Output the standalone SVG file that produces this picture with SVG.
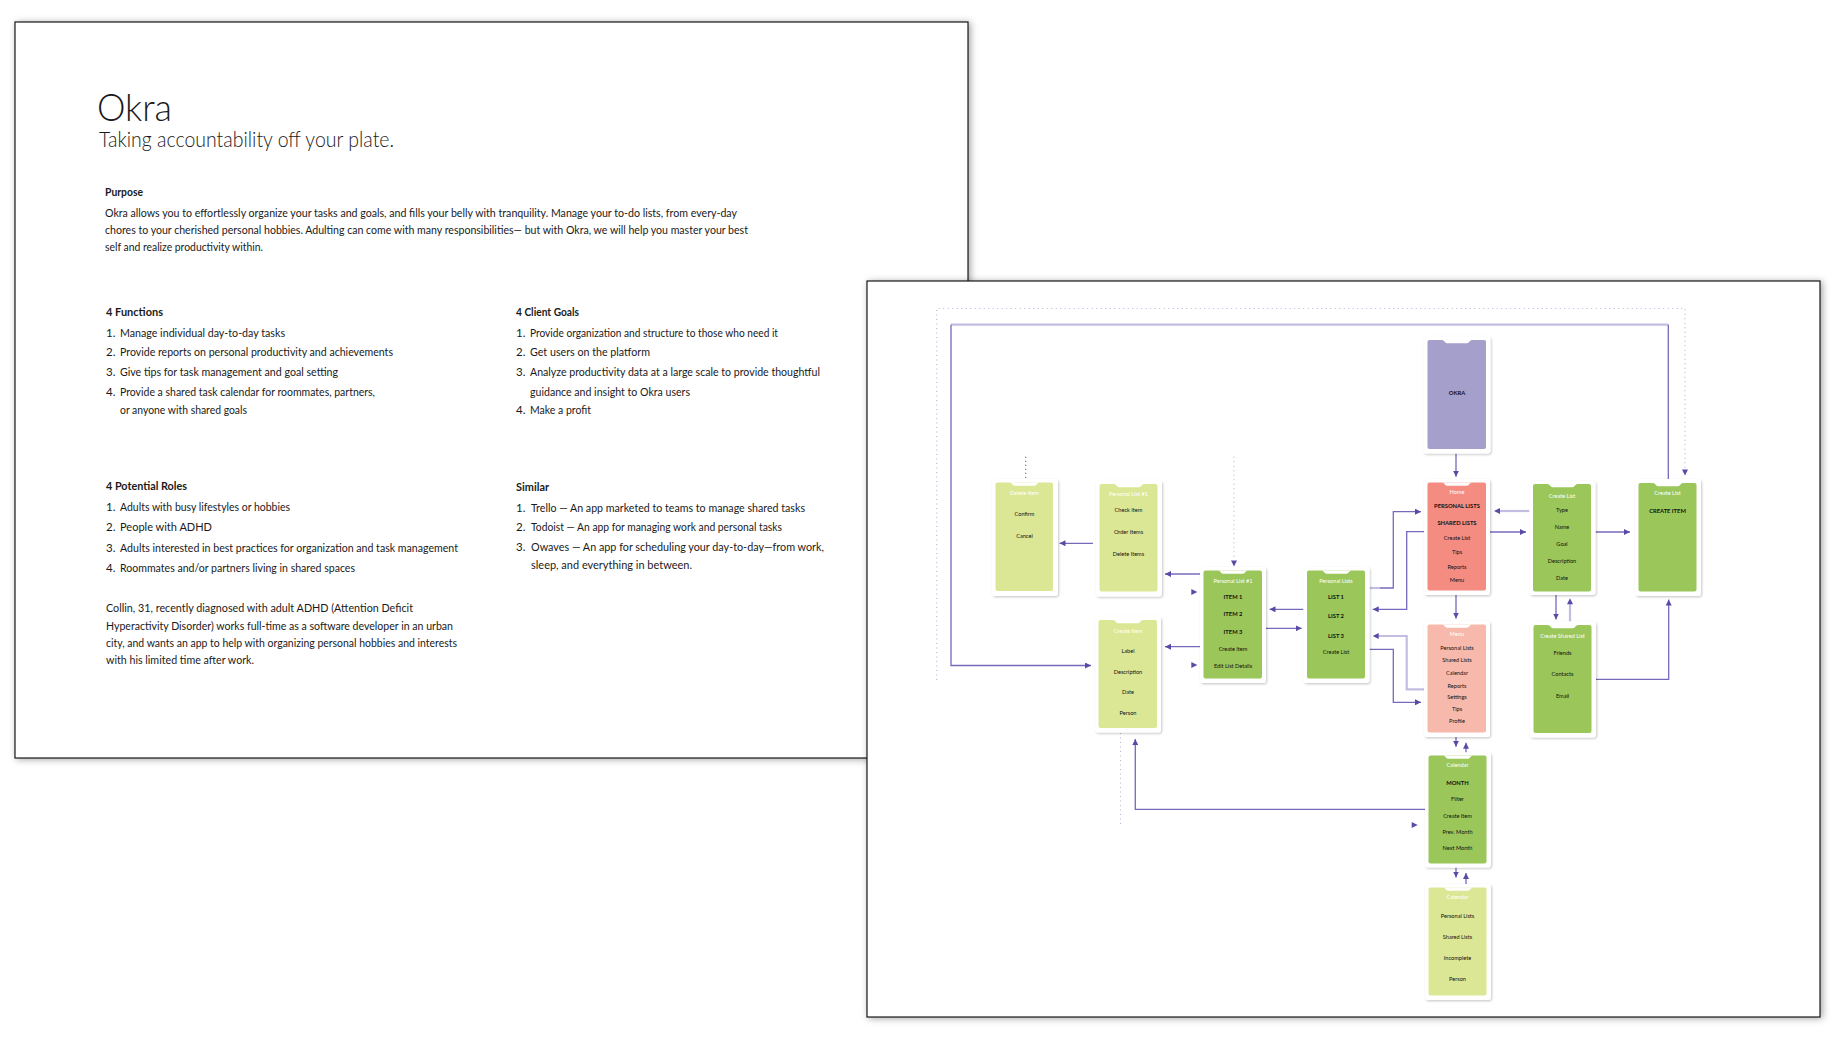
<svg xmlns="http://www.w3.org/2000/svg" xmlns:xlink="http://www.w3.org/1999/xlink" width="1837" height="1037" viewBox="0 0 1837 1037">
<defs>
<filter id="ps" x="-5%" y="-5%" width="110%" height="110%"><feDropShadow dx="2" dy="1" stdDeviation="3.5" flood-color="#000" flood-opacity="0.35"/></filter>
<filter id="cs" x="-20%" y="-20%" width="140%" height="140%"><feDropShadow dx="1" dy="1.2" stdDeviation="0.8" flood-color="#000" flood-opacity="0.22"/></filter>
<marker id="ar" viewBox="0 0 6 6" refX="6" refY="3" markerWidth="6" markerHeight="6" orient="auto" markerUnits="userSpaceOnUse"><path d="M0,0 L6,3 L0,6 Z" fill="#5a4aa6"/></marker>
<path id="ah" d="M0,0 L-6,-3 L-6,3 Z" fill="#5a4aa6"/>
<path id="notch" d="M18,3.5 Q19.5,3.5 20.5,5 Q21.5,6.8 23,6.8 H43 Q44.5,6.8 45.5,5 Q46.5,3.5 48,3.5 Z" fill="#fff"/>
<style>
.page{fill:#fff;stroke:#1a1a1a;stroke-width:1.2;filter:url(#ps)}
.pt{font-family:Lato,"Open Sans","Liberation Sans",sans-serif;fill:#1a1a1a;font-size:11.5px}
.ph{font-weight:700}
.card{fill:#fff;filter:url(#cs)}
.in{stroke:none}
.okra{fill:#a59fcc}.home{fill:#f48c82}.menu{fill:#f8b9ad}.grn{fill:#9ac65a}.lgr{fill:#dce795}
.t{font-family:Lato,"Open Sans","Liberation Sans",sans-serif;font-size:5.6px;text-anchor:middle;dominant-baseline:central;fill:#111}
.w{fill:#fff}
.b{font-weight:700;font-size:5.8px}
.ln{fill:none;stroke:#7868bb;stroke-width:1.3}
.lt{fill:none;stroke:#c4bde2;stroke-width:2.2}
.dt{fill:none;stroke:#b9b1dc;stroke-width:1.1;stroke-dasharray:1 3.5}
.dd{fill:none;stroke:#4f3f98;stroke-width:1.1;stroke-dasharray:1 3}
</style>
</defs>
<rect width="1837" height="1037" fill="#fff"/>

<g id="left-page">
<rect class="page" x="15" y="22" width="953" height="736"/>
<text class="pt" x="97" y="121" style="font-size:37px;font-weight:300" textLength="75" lengthAdjust="spacingAndGlyphs">Okra</text>
<text class="pt" x="99" y="147" style="font-size:21px;font-weight:300" textLength="295" lengthAdjust="spacingAndGlyphs">Taking accountability off your plate.</text>
<text class="pt ph" x="105" y="196" style="font-size:11px" textLength="38" lengthAdjust="spacingAndGlyphs">Purpose</text>
<text class="pt" x="105" y="217" style="font-size:11px" textLength="632" lengthAdjust="spacingAndGlyphs">Okra allows you to effortlessly organize your tasks and goals, and fills your belly with tranquility. Manage your to-do lists, from every-day</text>
<text class="pt" x="105" y="234" style="font-size:11px" textLength="643" lengthAdjust="spacingAndGlyphs">chores to your cherished personal hobbies. Adulting can come with many responsibilities— but with Okra, we will help you master your best</text>
<text class="pt" x="105" y="251" style="font-size:11px" textLength="158" lengthAdjust="spacingAndGlyphs">self and realize productivity within.</text>

<text class="pt ph" x="106" y="316" textLength="57" lengthAdjust="spacingAndGlyphs">4 Functions</text>
<text class="pt" x="106" y="336.7">1.</text><text class="pt" x="120" y="336.7" textLength="165" lengthAdjust="spacingAndGlyphs">Manage individual day-to-day tasks</text>
<text class="pt" x="106" y="356">2.</text><text class="pt" x="120" y="356" textLength="273" lengthAdjust="spacingAndGlyphs">Provide reports on personal productivity and achievements</text>
<text class="pt" x="106" y="376">3.</text><text class="pt" x="120" y="376" textLength="218" lengthAdjust="spacingAndGlyphs">Give tips for task management and goal setting</text>
<text class="pt" x="106" y="396">4.</text><text class="pt" x="120" y="396" textLength="255" lengthAdjust="spacingAndGlyphs">Provide a shared task calendar for roommates, partners,</text>
<text class="pt" x="120" y="414" textLength="127" lengthAdjust="spacingAndGlyphs">or anyone with shared goals</text>

<text class="pt ph" x="516" y="316" textLength="63" lengthAdjust="spacingAndGlyphs">4 Client Goals</text>
<text class="pt" x="516" y="336.7">1.</text><text class="pt" x="530" y="336.7" textLength="248" lengthAdjust="spacingAndGlyphs">Provide organization and structure to those who need it</text>
<text class="pt" x="516" y="356">2.</text><text class="pt" x="530" y="356" textLength="120" lengthAdjust="spacingAndGlyphs">Get users on the platform</text>
<text class="pt" x="516" y="376">3.</text><text class="pt" x="530" y="376" textLength="290" lengthAdjust="spacingAndGlyphs">Analyze productivity data at a large scale to provide thoughtful</text>
<text class="pt" x="530" y="396" textLength="160" lengthAdjust="spacingAndGlyphs">guidance and insight to Okra users</text>
<text class="pt" x="516" y="414">4.</text><text class="pt" x="530" y="414" textLength="61" lengthAdjust="spacingAndGlyphs">Make a profit</text>

<text class="pt ph" x="106" y="490" textLength="81" lengthAdjust="spacingAndGlyphs">4 Potential Roles</text>
<text class="pt" x="106" y="510.7">1.</text><text class="pt" x="120" y="510.7" textLength="170" lengthAdjust="spacingAndGlyphs">Adults with busy lifestyles or hobbies</text>
<text class="pt" x="106" y="530.7">2.</text><text class="pt" x="120" y="530.7" textLength="92" lengthAdjust="spacingAndGlyphs">People with ADHD</text>
<text class="pt" x="106" y="552">3.</text><text class="pt" x="120" y="552" textLength="338" lengthAdjust="spacingAndGlyphs">Adults interested in best practices for organization and task management</text>
<text class="pt" x="106" y="571.7">4.</text><text class="pt" x="120" y="571.7" textLength="235" lengthAdjust="spacingAndGlyphs">Roommates and/or partners living in shared spaces</text>
<text class="pt" x="106" y="612.3" textLength="307" lengthAdjust="spacingAndGlyphs">Collin, 31, recently diagnosed with adult ADHD (Attention Deficit</text>
<text class="pt" x="106" y="630" textLength="347" lengthAdjust="spacingAndGlyphs">Hyperactivity Disorder) works full-time as a software developer in an urban</text>
<text class="pt" x="106" y="647.3" textLength="351" lengthAdjust="spacingAndGlyphs">city, and wants an app to help with organizing personal hobbies and interests</text>
<text class="pt" x="106" y="664.3" textLength="148" lengthAdjust="spacingAndGlyphs">with his limited time after work.</text>

<text class="pt ph" x="516" y="490.7" textLength="33" lengthAdjust="spacingAndGlyphs">Similar</text>
<text class="pt" x="516" y="511.7">1.</text><text class="pt" x="531" y="511.7" textLength="274" lengthAdjust="spacingAndGlyphs">Trello — An app marketed to teams to manage shared tasks</text>
<text class="pt" x="516" y="531">2.</text><text class="pt" x="531" y="531" textLength="251" lengthAdjust="spacingAndGlyphs">Todoist — An app for managing work and personal tasks</text>
<text class="pt" x="516" y="550.7">3.</text><text class="pt" x="531" y="550.7" textLength="293" lengthAdjust="spacingAndGlyphs">Owaves — An app for scheduling your day-to-day—from work,</text>
<text class="pt" x="531" y="569.3" textLength="161" lengthAdjust="spacingAndGlyphs">sleep, and everything in between.</text>
</g>

<g id="right-page">
<rect class="page" x="867" y="281" width="953" height="736"/>
</g>

<g id="connectors">
<path class="dt" d="M936.7,680 V308.5 H1685 V470"/>
<use xlink:href="#ah" href="#ah" transform="translate(1685,475.5) rotate(90)"/>
<path class="lt" d="M1668.3,324.7 H951"/>
<path class="ln" d="M1668.3,479 V324.7"/>
<path class="ln" d="M951,324.7 V665.5 H1091" marker-end="url(#ar)"/>
<path class="dd" d="M1025.7,456.7 V479"/>
<path class="dt" d="M1234,456.7 V560"/>
<use xlink:href="#ah" href="#ah" transform="translate(1234,566.5) rotate(90)"/>
<path class="dt" d="M1120.5,733 V825"/>

<path class="ln" d="M1456,453.5 V476.7" marker-end="url(#ar)"/>
<path class="ln" d="M1456,595 V618.5" marker-end="url(#ar)"/>
<path class="ln" d="M1456,737 V746.7" marker-end="url(#ar)"/>
<path class="ln" d="M1466,752.5 V742.7" marker-end="url(#ar)"/>
<path class="ln" d="M1456,867.5 V877.5" marker-end="url(#ar)"/>
<path class="ln" d="M1466,884 V873" marker-end="url(#ar)"/>

<path class="lt" d="M1529.5,511 H1499"/>
<use xlink:href="#ah" href="#ah" transform="translate(1494,511) rotate(180)"/>
<path class="ln" d="M1490,532 H1526" marker-end="url(#ar)"/>
<path class="ln" d="M1595.5,532 H1630" marker-end="url(#ar)"/>
<path class="ln" d="M1556,595 V619.5" marker-end="url(#ar)"/>
<path class="lt" d="M1570,621.5 V603"/>
<use xlink:href="#ah" href="#ah" transform="translate(1570,598.3) rotate(-90)"/>
<path class="ln" d="M1596,679.3 H1668.7 V599.5" marker-end="url(#ar)"/>

<path class="ln" d="M1093,543.3 H1059.5" marker-end="url(#ar)"/>
<path class="ln" d="M1200,574 H1165" marker-end="url(#ar)"/>
<path class="ln" d="M1200,646.7 H1165" marker-end="url(#ar)"/>
<use xlink:href="#ah" href="#ah" transform="translate(1197.3,592)"/>
<use xlink:href="#ah" href="#ah" transform="translate(1197.3,665)"/>
<path class="ln" d="M1303.5,609.3 H1269.5" marker-end="url(#ar)"/>
<path class="ln" d="M1266,628.3 H1301.7" marker-end="url(#ar)"/>

<path class="lt" d="M1369.5,588 H1380"/>
<path class="ln" d="M1380,588 H1393.3 V511.7 H1421" marker-end="url(#ar)"/>
<path class="ln" d="M1424,531.7 H1406.7 V609.3 H1372.7" marker-end="url(#ar)"/>
<path class="lt" d="M1424,689.3 H1406.7 V636 H1378"/>
<use xlink:href="#ah" href="#ah" transform="translate(1372.7,636) rotate(180)"/>
<path class="ln" d="M1369.5,649.3 H1393.3 V702.3 H1421" marker-end="url(#ar)"/>

<path class="ln" d="M1425,809.3 H1135.3 V739" marker-end="url(#ar)"/>
<use xlink:href="#ah" href="#ah" transform="translate(1417.7,825)"/>
</g>

<g id="node-okra" transform="translate(1423.5,336.5)">
<rect class="card" width="67" height="117" rx="3"/>
<rect class="in okra" x="4" y="3.5" width="58.5" height="109" rx="2"/>
<use xlink:href="#notch" href="#notch" x="0.5"/>
<text class="t b" x="33.5" y="56.2">OKRA</text>
</g>

<g id="node-home" transform="translate(1424,479)">
<rect class="card" width="66" height="116" rx="3"/>
<rect class="in home" x="3.5" y="3.5" width="58.5" height="108" rx="2"/>
<use xlink:href="#notch" href="#notch"/>
<text class="t w" x="33" y="12.7">Home</text>
<text class="t b" x="33" y="26.7">PERSONAL LISTS</text>
<text class="t b" x="33" y="43.7">SHARED LISTS</text>
<text class="t" x="33" y="58.7">Create List</text>
<text class="t" x="33" y="72.7">Tips</text>
<text class="t" x="33" y="87">Reports</text>
<text class="t" x="33" y="100.3">Menu</text>
</g>

<g id="node-menu" transform="translate(1424,621)">
<rect class="card" width="66" height="116" rx="3"/>
<rect class="in menu" x="3.5" y="3.5" width="58.5" height="108" rx="2"/>
<use xlink:href="#notch" href="#notch"/>
<text class="t w" x="33" y="12.7">Menu</text>
<text class="t" x="33" y="26.7">Personal Lists</text>
<text class="t" x="33" y="38.7">Shared Lists</text>
<text class="t" x="33" y="51.3">Calendar</text>
<text class="t" x="33" y="64">Reports</text>
<text class="t" x="33" y="75.7">Settings</text>
<text class="t" x="33" y="87.7">Tips</text>
<text class="t" x="33" y="99.7">Profile</text>
</g>

<g id="node-create-list" transform="translate(1529.5,481)">
<rect class="card" width="66" height="114" rx="3"/>
<rect class="in grn" x="3.5" y="3" width="58" height="107.5" rx="2"/>
<use xlink:href="#notch" href="#notch" y="-0.5"/>
<text class="t w" x="32.5" y="14.7">Create List</text>
<text class="t" x="32.5" y="28">Type</text>
<text class="t" x="32.5" y="45">Name</text>
<text class="t" x="32.5" y="62.3">Goal</text>
<text class="t" x="32.5" y="79.7">Description</text>
<text class="t" x="32.5" y="96.7">Date</text>
</g>

<g id="node-create-item-right" transform="translate(1635,479)">
<rect class="card" width="66" height="117" rx="3"/>
<rect class="in grn" x="3.5" y="4" width="58" height="108.5" rx="2"/>
<use xlink:href="#notch" href="#notch" y="0.5"/>
<text class="t w" x="32.5" y="13.7">Create List</text>
<text class="t b" x="32.5" y="31.7">CREATE ITEM</text>
</g>

<g id="node-create-shared-list" transform="translate(1530,621.5)">
<rect class="card" width="66" height="116" rx="3"/>
<rect class="in grn" x="3.5" y="3.5" width="58" height="108" rx="2"/>
<use xlink:href="#notch" href="#notch"/>
<text class="t w" x="32.5" y="14.2">Create Shared List</text>
<text class="t" x="32.5" y="31.2">Friends</text>
<text class="t" x="32.5" y="52.2">Contacts</text>
<text class="t" x="32.5" y="74.2">Email</text>
</g>

<g id="node-calendar" transform="translate(1425,752.5)">
<rect class="card" width="66" height="115" rx="3"/>
<rect class="in grn" x="3.5" y="3" width="58" height="108" rx="2"/>
<use xlink:href="#notch" href="#notch" y="-0.5"/>
<text class="t w" x="32.5" y="12.2">Calendar</text>
<text class="t b" x="32.5" y="30.2">MONTH</text>
<text class="t" x="32.5" y="46.2">Filter</text>
<text class="t" x="32.5" y="62.5">Create Item</text>
<text class="t" x="32.5" y="79.2">Prev. Month</text>
<text class="t" x="32.5" y="95.2">Next Month</text>
</g>

<g id="node-calendar-2" transform="translate(1425,884)">
<rect class="card" width="66" height="116" rx="3"/>
<rect class="in lgr" x="3.5" y="3.5" width="58" height="108" rx="2"/>
<use xlink:href="#notch" href="#notch"/>
<text class="t w" x="32.5" y="12.7">Calendar</text>
<text class="t" x="32.5" y="31">Personal Lists</text>
<text class="t" x="32.5" y="52">Shared Lists</text>
<text class="t" x="32.5" y="73.3">Incomplete</text>
<text class="t" x="32.5" y="94.3">Person</text>
</g>

<g id="node-personal-lists" transform="translate(1303.5,567)">
<rect class="card" width="66" height="116" rx="3"/>
<rect class="in grn" x="3.5" y="3.5" width="58" height="108" rx="2"/>
<use xlink:href="#notch" href="#notch"/>
<text class="t w" x="32.5" y="13">Personal Lists</text>
<text class="t b" x="32.5" y="29.7">LIST 1</text>
<text class="t b" x="32.5" y="48.7">LIST 2</text>
<text class="t b" x="32.5" y="68.7">LIST 3</text>
<text class="t" x="32.5" y="84.7">Create List</text>
</g>

<g id="node-personal-list-1" transform="translate(1200,567)">
<rect class="card" width="66" height="116" rx="3"/>
<rect class="in grn" x="3.5" y="3.5" width="58.5" height="108" rx="2"/>
<use xlink:href="#notch" href="#notch"/>
<text class="t w" x="33" y="13">Personal List #1</text>
<text class="t b" x="33" y="29.7">ITEM 1</text>
<text class="t b" x="33" y="46.7">ITEM 2</text>
<text class="t b" x="33" y="64.7">ITEM 3</text>
<text class="t" x="33" y="81.7">Create Item</text>
<text class="t" x="33" y="98.3">Edit List Details</text>
</g>

<g id="node-create-item" transform="translate(1095,616.5)">
<rect class="card" width="66" height="116" rx="3"/>
<rect class="in lgr" x="3.5" y="3.5" width="58.5" height="108" rx="2"/>
<use xlink:href="#notch" href="#notch"/>
<text class="t w" x="33" y="13.5">Create Item</text>
<text class="t" x="33" y="33.8">Label</text>
<text class="t" x="33" y="54.5">Description</text>
<text class="t" x="33" y="75.2">Date</text>
<text class="t" x="33" y="96.2">Person</text>
</g>

<g id="node-personal-list-1-options" transform="translate(1096,480.5)">
<rect class="card" width="66" height="116" rx="3"/>
<rect class="in lgr" x="3.5" y="3.5" width="58" height="107.5" rx="2"/>
<use xlink:href="#notch" href="#notch"/>
<text class="t w" x="32.5" y="12.8">Personal List #1</text>
<text class="t" x="32.5" y="28.8">Check Item</text>
<text class="t" x="32.5" y="50.8">Order Items</text>
<text class="t" x="32.5" y="72.8">Delete Items</text>
</g>

<g id="node-delete-item" transform="translate(992,479)">
<rect class="card" width="66" height="117" rx="3"/>
<rect class="in lgr" x="3.5" y="3.5" width="57.5" height="108.5" rx="2"/>
<use xlink:href="#notch" href="#notch" x="-0.5"/>
<text class="t w" x="32.5" y="13.7">Delete Item</text>
<text class="t" x="32.5" y="34">Confirm</text>
<text class="t" x="32.5" y="56.7">Cancel</text>
</g>
</svg>
